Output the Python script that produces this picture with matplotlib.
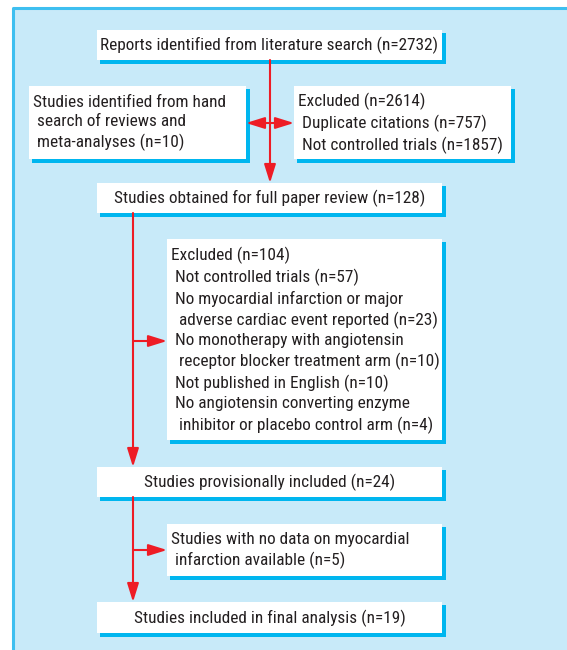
import matplotlib
matplotlib.use("Agg")
import matplotlib.pyplot as plt
from matplotlib.patches import Rectangle, FancyArrowPatch

W, H = 567, 650
FONT = ['Roboto Condensed', 'Archivo Narrow', 'DejaVu Sans']

# --- content ---
box_texts = [
    "Reports identified from literature search (n=2732)",
    "Studies identified from hand\n search of reviews and\n meta-analyses (n=10)",
    "Excluded (n=2614)\n Duplicate citations (n=757)\n Not controlled trials (n=1857)",
    "Studies obtained for full paper review (n=128)",
    "Excluded (n=104)\n Not controlled trials (n=57)\n No myocardial infarction or major\n  adverse cardiac event reported (n=23)\n No monotherapy with angiotensin\n  receptor blocker treatment arm (n=10)\n Not published in English (n=10)\n No angiotensin converting enzyme\n  inhibitor or placebo control arm (n=4)",
    "Studies provisionally included (n=24)",
    "Studies with no data on myocardial\n infarction available (n=5)",
    "Studies included in final analysis (n=19)",
]
# layout (x0, y0, x1, y1) in pixels, alignment
box_geom = [
    (97, 30, 442, 60, 'center'),
    (29, 86, 246, 159, 'left'),
    (294, 86, 511, 159, 'left'),
    (97, 183, 442, 213, 'center'),
    (167, 239, 442, 440, 'left'),
    (97, 467, 442, 497, 'center'),
    (167, 524, 442, 576, 'left'),
    (97, 602, 442, 633, 'center'),
]

BG = '#c8eaf9'
EDGE = '#3ebff0'
SHADOW = '#00b6ef'
RED = '#ee1c25'

fig = plt.figure(figsize=(W / 100, H / 100), dpi=100)
ax = fig.add_axes([0, 0, 1, 1])
ax.set_xlim(0, W)
ax.set_ylim(H, 0)
ax.axis('off')

# panel
ax.add_patch(Rectangle((13, 8), W, H, facecolor=BG, edgecolor='none', zorder=0))
ax.plot([13, 13, W], [H, 8, 8], color=EDGE, lw=2.2, solid_capstyle='butt', zorder=1)

for txt, (x0, y0, x1, y1, al) in zip(box_texts, box_geom):
    ax.add_patch(Rectangle((x0 + 3, y0 + 3), x1 - x0 + 1, y1 - y0 + 1,
                           facecolor=SHADOW, edgecolor='none', zorder=2))
    ax.add_patch(Rectangle((x0, y0), x1 - x0, y1 - y0,
                           facecolor='white', edgecolor='none', zorder=3))
    if al == 'center':
        tx = (x0 + x1) / 2
    else:
        tx = x0 + 4
    ax.text(tx, (y0 + y1) / 2 + 0.5, txt, ha=al, va='center', multialignment='left',
            fontsize=12.4, family=FONT, color='#231f20', linespacing=1.36, zorder=4)

def arrow(p0, p1):
    ax.add_patch(FancyArrowPatch(p0, p1, arrowstyle='-|>,head_length=0.8,head_width=0.25',
                                 mutation_scale=14, color=RED, lw=1.5,
                                 shrinkA=0, shrinkB=0, zorder=5))

# main vertical 1
arrow((270, 60), (270, 183))
arrow((270, 123), (246, 123))
arrow((270, 123), (294, 123))
# vertical 2
arrow((133, 213), (133, 467))
arrow((133, 341), (167, 341))
# vertical 3
arrow((133, 497), (133, 602))
arrow((133, 550), (167, 550))

fig.savefig('out.png', dpi=100)
